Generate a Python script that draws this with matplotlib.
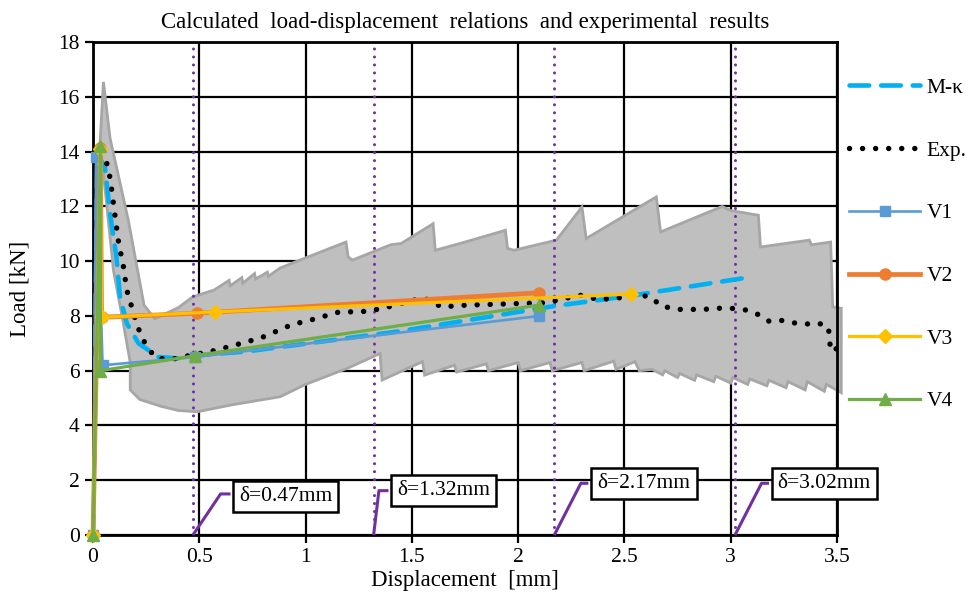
import numpy as np
import matplotlib
matplotlib.use('Agg')
import matplotlib.pyplot as plt

plt.rcParams['font.family'] = ['Liberation Serif', 'DejaVu Serif']

# scatter band of the experiments (upper edge, then lower edge)
band_upper_x = [0.033, 0.049, 0.08, 0.166, 0.24, 0.29, 0.40, 0.47, 0.57, 0.64, 0.645, 0.70, 0.705,
                0.76, 0.765, 0.82, 0.825, 0.88, 0.96, 1.19, 1.20, 1.22, 1.40, 1.45, 1.60, 1.61, 1.75,
                1.94, 1.95, 1.98, 2.18, 2.30, 2.32, 2.65, 2.67, 2.96, 3.00, 3.13, 3.14, 3.37, 3.38,
                3.47, 3.48, 3.52]
band_upper_y = [14.3, 16.55, 14.5, 11.5, 8.4, 7.9, 8.3, 8.7, 8.95, 9.3, 9.1, 9.4, 9.2,
                9.55, 9.35, 9.6, 9.45, 9.75, 10.0, 10.7, 10.16, 10.04, 10.6, 10.65, 11.37, 10.4, 10.7,
                11.13, 10.47, 10.4, 10.77, 11.98, 10.83, 12.35, 11.07, 12.0, 11.85, 11.68, 10.52, 10.77, 10.6,
                10.7, 8.33, 8.28]
band_lower_x = [0.033, 0.064, 0.096, 0.14, 0.175, 0.175, 0.22, 0.32, 0.40, 0.49, 0.65, 0.88, 1.0,
                1.2, 1.35, 1.36, 1.55, 1.56, 1.70, 1.71, 1.85, 1.86, 2.0, 2.01, 2.15, 2.16, 2.30,
                2.31, 2.45, 2.46, 2.55, 2.57, 2.63, 2.68, 2.69, 2.75, 2.76, 2.83, 2.84, 2.92, 2.93,
                3.0, 3.01, 3.08, 3.09, 3.17, 3.18, 3.26, 3.27, 3.35, 3.36, 3.44, 3.45, 3.52]
band_lower_y = [14.3, 12.1, 9.67, 7.85, 6.3, 5.3, 4.95, 4.7, 4.55, 4.5, 4.75, 5.05, 5.5,
                6.1, 6.63, 5.66, 6.33, 5.84, 6.2, 5.95, 6.25, 6.0, 6.3, 6.0, 6.3, 6.0, 6.3,
                6.0, 6.35, 6.05, 6.33, 6.0, 6.05, 5.85, 6.0, 5.75, 5.9, 5.65, 5.85, 5.6, 5.8,
                5.55, 5.75, 5.5, 5.7, 5.45, 5.65, 5.38, 5.6, 5.3, 5.6, 5.25, 5.5, 5.2]

# M-kappa model
mk_x = [0.0, 0.02, 0.056, 0.08, 0.11, 0.127, 0.159, 0.214, 0.308, 0.40, 0.47, 0.72, 1.45, 2.16, 2.54, 3.10]
mk_y = [0.0, 13.9, 13.44, 11.75, 10.16, 8.7, 7.73, 7.0, 6.5, 6.45, 6.55, 6.7, 7.45, 8.35, 8.75, 9.43]

# experimental mean curve
exp_x = [0.04, 0.072, 0.088, 0.104, 0.12, 0.143, 0.159, 0.198, 0.222, 0.245, 0.29, 0.355, 0.418,
         0.58, 0.79, 0.94, 1.0, 1.16, 1.26, 1.36, 1.555, 1.64, 1.74, 1.98, 2.13, 2.29, 2.38,
         2.53, 2.58, 2.63, 2.67, 2.76, 2.87, 2.98, 3.08, 3.13, 3.18, 3.23, 3.295, 3.35, 3.405,
         3.457, 3.467, 3.467, 3.5]
exp_y = [14.0, 13.44, 12.6, 11.62, 10.7, 9.8, 8.94, 7.91, 7.36, 7.0, 6.5, 6.39, 6.5,
         6.75, 7.2, 7.7, 7.8, 8.15, 8.15, 8.27, 8.67, 8.33, 8.39, 8.45, 8.48, 8.76, 8.6,
         8.7, 8.76, 8.67, 8.36, 8.24, 8.24, 8.3, 8.21, 8.05, 7.81, 7.85, 7.75, 7.7, 7.75,
         7.63, 7.21, 6.73, 6.81]

# calculated variants
v1_x = [0.0, 0.015, 0.045, 0.48, 2.1]
v1_y = [0.0, 13.8, 6.2, 6.5, 8.0]
v2_x = [0.0, 0.035, 0.04, 0.49, 2.1]
v2_y = [0.0, 14.15, 7.95, 8.1, 8.85]
v3_x = [0.0, 0.035, 0.04, 0.575, 2.53]
v3_y = [0.0, 14.1, 7.95, 8.15, 8.8]
v4_x = [0.0, 0.035, 0.035, 0.48, 2.1]
v4_y = [0.0, 14.2, 6.0, 6.55, 8.4]

# crack displacements
deltas = [0.47, 1.32, 2.17, 3.02]
delta_labels = ['δ=0.47mm', 'δ=1.32mm', 'δ=2.17mm', 'δ=3.02mm']
# purple pointer lines: (start, knee, end) per marker
ptr_x = [[0.47, 0.60, 0.647], [1.32, 1.345, 1.39], [2.17, 2.295, 2.33], [3.02, 3.145, 3.18]]
ptr_y = [[0.0, 1.5, 1.5], [0.0, 1.62, 1.62], [0.0, 1.89, 1.89], [0.0, 1.89, 1.89]]
box_x = [0.905, 1.648, 2.592, 3.44]
box_y = [1.42, 1.63, 1.88, 1.87]

purple = '#7030A0'

fig = plt.figure(figsize=(9.7, 5.94), dpi=100)
ax = fig.add_axes([0.0959, 0.0993, 0.767, 0.8297])

# band
poly_x = band_upper_x + band_lower_x[::-1]
poly_y = band_upper_y + band_lower_y[::-1]
ax.fill(poly_x, poly_y, facecolor='#BFBFBF', edgecolor='#A6A6A6', linewidth=2, zorder=2,
        clip_on=False)

for d in deltas:
    ax.axvline(d, color=purple, linestyle=(0, (0.01, 2.6)), dash_capstyle='round',
               linewidth=2.2, zorder=3)

ax.plot(mk_x, mk_y, color='#00B0F0', linewidth=3.3, linestyle=(0, (4.3, 2.6)),
        dash_capstyle='round', label='M-κ', zorder=4)
ax.plot(exp_x, exp_y, color='black', linewidth=3.9, linestyle=(0, (0.01, 2.4)),
        dash_capstyle='round', label='Exp.', zorder=4)

ax.plot(v1_x, v1_y, color='#5B9BD5', linewidth=1.9, marker='s', markersize=7,
        label='V1', zorder=5, clip_on=False)
ax.plot(v2_x, v2_y, color='#ED7D31', linewidth=3.4, marker='o', markersize=8,
        label='V2', zorder=5, clip_on=False)
ax.plot(v3_x, v3_y, color='#FFC000', linewidth=2.3, marker='D', markersize=7,
        label='V3', zorder=6, clip_on=False)
ax.plot(v4_x, v4_y, color='#70AD47', linewidth=2.3, marker='^', markersize=8,
        label='V4', zorder=6, clip_on=False)

for px, py, bx, by, lab in zip(ptr_x, ptr_y, box_x, box_y, delta_labels):
    ax.plot(px, py, color=purple, linewidth=2.2, zorder=7, clip_on=False, solid_capstyle='butt')
    ax.text(bx, by, lab, fontsize=15.5, ha='center', va='center', zorder=8, clip_on=False,
            bbox=dict(boxstyle='square,pad=0.28', facecolor='white', edgecolor='black',
                      linewidth=1.8))

ax.set_xlim(0, 3.5)
ax.set_ylim(0, 18)
ax.set_xticks(np.arange(0, 3.51, 0.5))
ax.set_xticklabels(['0', '0.5', '1', '1.5', '2', '2.5', '3', '3.5'])
ax.set_yticks(np.arange(0, 19, 2))
ax.set_axisbelow(True)
ax.grid(True, color='black', linewidth=1.6)
for sp in ax.spines.values():
    sp.set_linewidth(2)
    sp.set_color('black')
ax.tick_params(direction='out', length=6, width=1.6, labelsize=15.5, colors='black')

ax.set_xlabel('Displacement  [mm]', fontsize=16.5, labelpad=2)
ax.set_ylabel('Load [kN]', fontsize=16.5, labelpad=20)
ax.set_title('Calculated  load-displacement  relations  and experimental  results',
             fontsize=16.5, pad=10)

ax.legend(loc='upper left', bbox_to_anchor=(1.005, 0.945), frameon=False, fontsize=15.5,
          labelspacing=1.98, handlelength=3.3, handletextpad=0.3, borderaxespad=0)

plt.savefig('out.png', dpi=100)
